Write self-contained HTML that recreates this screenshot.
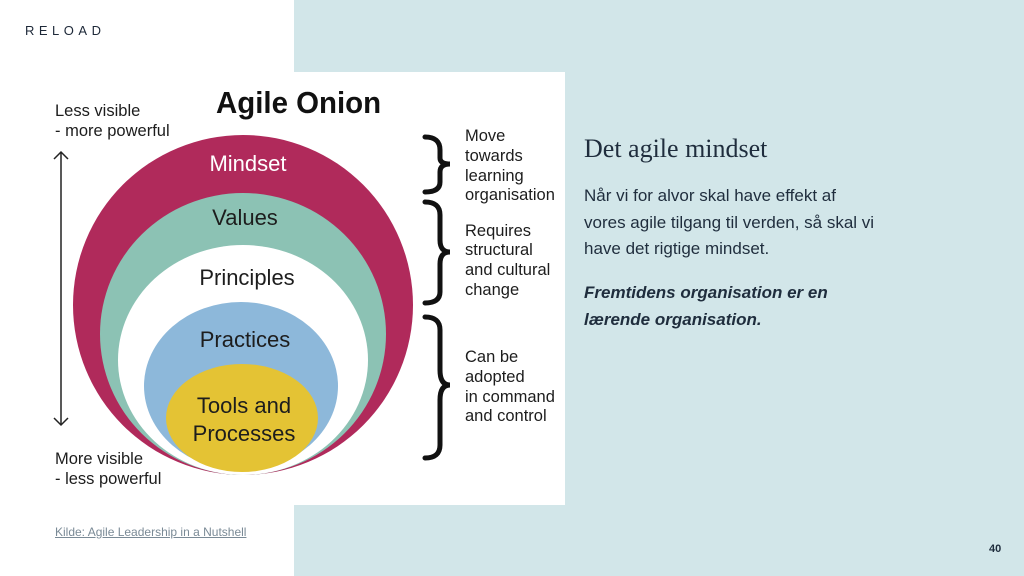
<!DOCTYPE html>
<html><head><meta charset="utf-8"><style>
body{margin:0;width:1024px;height:576px;position:relative;background:#fff;overflow:hidden;font-family:"Liberation Sans",sans-serif}
.bg{position:absolute;left:294px;top:0;width:730px;height:576px;background:#d2e6e9}
.img{position:absolute;left:40px;top:72px;width:525px;height:433px;background:#fff}
.t{position:absolute;color:#1f2d3d;white-space:nowrap}
</style></head><body>
<div class="bg"></div>
<div class="img"></div>
<div class="t" style="left:25px;top:23px;font-size:13px;letter-spacing:4.5px;color:#1d2838">RELOAD</div>
<svg style="position:absolute;left:0;top:0" width="1024" height="576">
<ellipse cx="243" cy="305" rx="170" ry="170" fill="#b02a5b"/>
<ellipse cx="243" cy="334" rx="143" ry="141" fill="#8cc2b4"/>
<ellipse cx="243" cy="360" rx="125" ry="115" fill="#fff"/>
<ellipse cx="241" cy="386" rx="97" ry="84" fill="#8db8da"/>
<ellipse cx="242" cy="418" rx="76" ry="54" fill="#e4c334"/>
<g stroke="#222" stroke-width="1.5" fill="none">
<line x1="61" y1="152" x2="61" y2="425"/>
<polyline points="54,159 61,152 68,159"/>
<polyline points="54,418 61,425 68,418"/>
</g>
<g stroke="#111" stroke-width="5" fill="none" stroke-linecap="round">
<path d="M425,137 Q440,137 440,150 L440,158 Q440,164 450,164 Q440,164 440,172 L440,182 Q440,192 425,192"/>
<path d="M425,202 Q440,202 440,215 L440,240 Q440,252 450,252 Q440,252 440,264 L440,292 Q440,303 425,303"/>
<path d="M425,317 Q440,317 440,330 L440,370 Q440,385 450,385 Q440,385 440,400 L440,445 Q440,458 425,458"/>
</g>
<g font-family="Liberation Sans, DejaVu Sans, sans-serif" font-size="22" text-anchor="middle">
<text x="248" y="171" fill="#fff">Mindset</text>
<text x="245" y="225" fill="#1d1d1d">Values</text>
<text x="247" y="285" fill="#1d1d1d">Principles</text>
<text x="245" y="347" fill="#1d1d1d">Practices</text>
<text x="244" y="413" fill="#1d1d1d">Tools and</text>
<text x="244" y="441" fill="#1d1d1d">Processes</text>
</g>
<text x="216" y="113" font-family="Liberation Sans, sans-serif" font-weight="bold" font-size="31" fill="#111" transform="scale(0.95,1)" transform-origin="216 113">Agile Onion</text>
<g font-family="Liberation Sans, DejaVu Sans, sans-serif" font-size="16.5" fill="#1d1d1d">
<text x="55" y="116">Less visible</text>
<text x="55" y="136">- more powerful</text>
<text x="55" y="464">More visible</text>
<text x="55" y="484">- less powerful</text>
<text x="465" y="141">Move</text><text x="465" y="161">towards</text><text x="465" y="181">learning</text><text x="465" y="200">organisation</text>
<text x="465" y="236">Requires</text><text x="465" y="255">structural</text><text x="465" y="275">and cultural</text><text x="465" y="295">change</text>
<text x="465" y="362">Can be</text><text x="465" y="382">adopted</text><text x="465" y="402">in command</text><text x="465" y="421">and control</text>
</g>
</svg>
<div class="t" style="left:584px;top:134px;font-size:26px;font-family:'Liberation Serif',serif;color:#1f2d3d">Det agile mindset</div>
<div class="t" style="left:584px;top:183px;font-size:17px;line-height:26.5px">Når vi for alvor skal have effekt af<br>vores agile tilgang til verden, så skal vi<br>have det rigtige mindset.</div>
<div class="t" style="left:584px;top:279px;font-size:17px;line-height:27px;font-weight:bold;font-style:italic">Fremtidens organisation er en<br>lærende organisation.</div>
<div class="t" style="left:55px;top:525px;font-size:12px;color:#7a8a96;text-decoration:underline">Kilde: Agile Leadership in a Nutshell</div>
<div class="t" style="left:989px;top:543px;font-size:11px;font-weight:bold">40</div>
</body></html>
